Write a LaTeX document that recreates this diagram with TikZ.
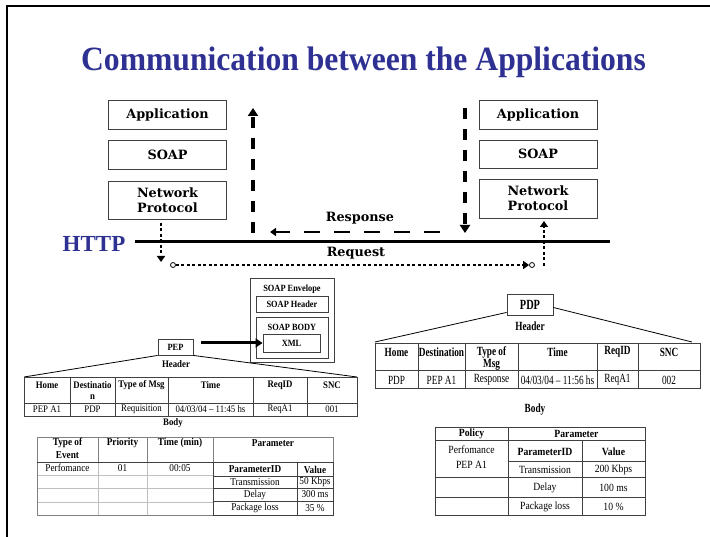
\documentclass[tikz,border=0pt]{standalone}
\usepackage{fontspec}
\setmainfont{Liberation Serif}
\newfontfamily\titlefont[FakeStretch=0.93]{Liberation Serif}
\newfontfamily\boxfont{DejaVu Serif}
\newfontfamily\tblfont[FakeStretch=0.88]{Liberation Serif}
\newfontfamily\tblnfont[FakeStretch=0.74]{Liberation Serif}
\usetikzlibrary{arrows.meta}
\definecolor{titleblue}{RGB}{46,49,146}
\tikzset{
  stk/.style={draw=black!75, line width=0.9, font=\boxfont\bfseries\fontsize{12.8}{15}\selectfont, align=center, inner sep=0pt, minimum width=118},
  arrlbl/.style={font=\boxfont\bfseries\fontsize{12.8}{13}\selectfont, inner sep=0pt},
  bigdash/.style={line width=3.5, dash pattern=on 11pt off 10pt},
  respdash/.style={line width=2.5, dash pattern=on 16pt off 14pt},
  dotl/.style={line width=2.4, dash pattern=on 3pt off 2.5pt},
  btip/.style={-{Triangle[width=10pt,length=8pt]}},
  stip/.style={-{Triangle[width=8pt,length=6pt]}},
  tl/.style={draw=black!75, line width=0.8},
  lg/.style={draw=black!25, line width=0.8},
  mg/.style={draw=black!50, line width=0.9},
  sbox/.style={draw=black!75, line width=0.9, inner sep=0pt},
  pb/.style={font=\tblfont\bfseries\fontsize{10}{11}\selectfont, inner sep=0pt, align=center},
  pr/.style={font=\tblfont\fontsize{10}{11}\selectfont, inner sep=0pt},
  nb/.style={font=\tblnfont\bfseries\fontsize{12.5}{13}\selectfont, inner sep=0pt},
  nr/.style={font=\tblnfont\fontsize{12.5}{13}\selectfont, inner sep=0pt},
  bb/.style={font=\tblfont\bfseries\fontsize{10.5}{11}\selectfont, inner sep=0pt},
  br/.style={font=\tblfont\fontsize{10.5}{11}\selectfont, inner sep=0pt},
  rb/.style={font=\tblfont\bfseries\fontsize{11}{12}\selectfont, inner sep=0pt},
  rr/.style={font=\tblfont\fontsize{11}{12}\selectfont, inner sep=0pt},
}
\begin{document}
\begin{tikzpicture}[x=1pt,y=-1pt]
\useasboundingbox (0,0) rectangle (710,537);
% frame
\draw[line width=1.3] (7,537) -- (7,6) -- (710,6);
% title
\node[font=\titlefont\bfseries\fontsize{34}{36}\selectfont, text=titleblue, anchor=base, inner sep=0] (title) at (363.5,71) {Communication between the Applications};

% left stack
\node[stk, minimum height=29] (lapp) at (167.5,114.5) {Application};
\node[stk, minimum height=29] (lsoap) at (167.5,155) {SOAP};
\node[stk, minimum height=38] (lnet) at (167.5,200) {Network\\Protocol};
% right stack
\node[stk, minimum height=29] (rapp) at (538,114.5) {Application};
\node[stk, minimum height=28] (rsoap) at (538,154) {SOAP};
\node[stk, minimum height=39] (rnet) at (538,198.5) {Network\\Protocol};

% dashed vertical arrows
\coordinate (lupB) at (253,233);
\coordinate (lupT) at (253,108);
\draw[bigdash, btip] (lupB) -- (lupT);
\coordinate (rdnT) at (465,108);
\coordinate (rdnB) at (465,233);
\draw[bigdash, btip] (rdnT) -- (rdnB);
% response
\coordinate (resS) at (440,232);
\coordinate (resE) at (270,232);
\draw[respdash, stip] (resS) -- (resE);
\node[arrlbl] (resp) at (360,218) {Response};

% HTTP
\node[font=\bfseries\fontsize{23}{24}\selectfont, text=titleblue, inner sep=0] (http) at (94,244) {HTTP};
\coordinate (hS) at (135,242);
\coordinate (hE) at (610,242);
\draw[line width=3] (hS) -- (hE);

% request
\coordinate (ldT) at (161,223);
\coordinate (ldB) at (161,262);
\draw[dotl, stip] (ldT) -- (ldB);
\node[circle, draw, line width=0.8, inner sep=0pt, minimum size=5] (rqs) at (173,265) {};
\node[circle, draw, line width=0.8, inner sep=0pt, minimum size=5] (rqe) at (532,265) {};
\draw[dotl, stip] (rqs) -- (rqe);
\node[arrlbl] (req) at (356,253) {Request};
\coordinate (ruB) at (544,266);
\coordinate (ruT) at (544,221);
\draw[dotl, stip] (ruB) -- (ruT);

% SOAP envelope
\draw[sbox] (250,278) rectangle (334,362);
\node[pb, font=\tblfont\bfseries\fontsize{9.5}{10}\selectfont] (senv) at (292,289) {SOAP Envelope};
\node[sbox, minimum width=72, minimum height=16, font=\tblfont\bfseries\fontsize{9.5}{10}\selectfont] (shead) at (292,304) {SOAP Header};
\draw[sbox] (256,317) rectangle (328,358);
\node[pb, font=\tblfont\bfseries\fontsize{9.5}{10}\selectfont] (sbody) at (292,327) {SOAP BODY};
\node[sbox, minimum width=57, minimum height=18, font=\tblfont\bfseries\fontsize{9.5}{10}\selectfont] (xml) at (291.5,343) {XML};

% PEP
\node[sbox, minimum width=35, minimum height=16, font=\tblfont\bfseries\fontsize{9.5}{10}\selectfont] (pep) at (175.5,347) {PEP};
\draw[line width=3, -{Triangle[width=9pt,length=7pt]}] (pep.east) ++(8,-4) coordinate (pa) -- (xml.west |- pa);
\node[pb] (pephdr) at (176,364) {Header};
\coordinate (ptl) at (24,377);
\coordinate (ptr) at (357,377);
\draw[line width=0.8] (pep.south west) -- (ptl);
\draw[line width=0.8] (pep.south east) -- (ptr);

% PEP header table
\draw[tl] (24,377) rectangle (357,416);
\draw[tl] (24,403) -- (357,403);
\foreach \x in {70,115,168,253,307} \draw[tl] (\x,377) -- (\x,416);
\node[pb] (p1) at (47,385) {Home};
\node[pb] (p2) at (92.5,385) {Destinatio};
\node[pb] (p2b) at (92.5,397) {n};
\node[pb] (p3) at (141.5,385) {Type of Msg};
\node[pb] (p4) at (210.5,385) {Time};
\node[pb] (p5) at (280,385) {ReqID};
\node[pb] (p6) at (332,385) {SNC};
\node[pr] (p7) at (47,409.5) {PEP A1};
\node[pr] (p8) at (92.5,409.5) {PDP};
\node[pr] (p9) at (141.5,409.5) {Requisition};
\node[pr] (p10) at (210.5,409.5) {04/03/04 – 11:45 hs};
\node[pr] (p11) at (280,409.5) {ReqA1};
\node[pr] (p12) at (332,409.5) {001};
\node[pb] (pepbody) at (173,423) {Body};

% left body table
\draw[lg] (37,475) -- (213,475);
\draw[lg] (37,488) -- (213,488);
\draw[lg] (37,502) -- (213,502);
\draw[lg] (98,462) -- (98,515);
\draw[lg] (147,462) -- (147,515);
\draw[mg] (98,437) -- (98,462);
\draw[mg] (147,437) -- (147,462);
\draw[mg] (213,437) -- (213,462);
\draw[mg] (37,437) rectangle (333,515);
\draw[tl] (37,462) -- (333,462);
\draw[tl] (213,462) rectangle (333,515);
\draw[tl] (297,462) -- (297,515);
\draw[tl] (213,476) -- (333,476);
\draw[tl] (213,488) -- (333,488);
\draw[tl] (213,501) -- (333,501);
\node[bb] (b1) at (67.5,443) {Type of};
\node[bb] (b1b) at (67.5,455) {Event};
\node[bb] (b2) at (122.5,443) {Priority};
\node[bb] (b3) at (180,443) {Time (min)};
\node[bb] (b4) at (273,443) {Parameter};
\node[br] (b5) at (67.5,468) {Perfomance};
\node[br] (b6) at (122.5,468) {01};
\node[br] (b7) at (180,468) {00:05};
\node[bb] (b8) at (255,469.5) {ParameterID};
\node[bb] (b9) at (315,469.5) {Value};
\node[br] (b10) at (255,482) {Transmission};
\node[br] (b11) at (315,482) {50 Kbps};
\node[br] (b12) at (255,494.5) {Delay};
\node[br] (b13) at (315,494.5) {300 ms};
\node[br] (b14) at (255,508) {Package loss};
\node[br] (b15) at (315,508) {35 \%};

% PDP
\node[sbox, minimum width=46, minimum height=21, font=\tblnfont\bfseries\fontsize{14}{15}\selectfont] (pdp) at (530,304.5) {PDP};
\node[nb] (pdphdr) at (530,326) {Header};
\coordinate (qtl) at (375,342);
\coordinate (qtr) at (692,342);
\draw[line width=0.8] (pdp.south west) ++(0,-3) -- (qtl);
\draw[line width=0.8] (pdp.east) ++(0,3) -- (qtr);

% PDP header table
\draw[tl] (375,343) rectangle (700,388);
\draw[tl] (375,370) -- (700,370);
\foreach \x in {418,465,518,597,638} \draw[tl] (\x,343) -- (\x,388);
\node[nb] (q1) at (396.5,352) {Home};
\node[nb] (q2) at (441.5,352) {Destination};
\node[nb] (q3) at (491.5,352) {Type of};
\node[nb] (q3b) at (491.5,365) {Msg};
\node[nb] (q4) at (557.5,352) {Time};
\node[nb] (q5) at (617.5,352) {ReqID};
\node[nb] (q6) at (669,352) {SNC};
\node[nr] (q7) at (396.5,380) {PDP};
\node[nr] (q8) at (441.5,380) {PEP A1};
\node[nr] (q9) at (491.5,380) {Response};
\node[nr] (q10) at (557.5,380) {04/03/04 – 11:56 hs};
\node[nr] (q11) at (617.5,380) {ReqA1};
\node[nr] (q12) at (669,380) {002};
\node[nb] (pdpbody) at (535,410) {Body};

% right body table
\draw[tl] (435,427) rectangle (645,515);
\draw[tl] (435,440) -- (645,440);
\draw[tl] (508,461) -- (645,461);
\draw[tl] (435,477) -- (645,477);
\draw[tl] (435,497) -- (645,497);
\draw[tl] (508,427) -- (508,515);
\draw[tl] (582,440) -- (582,515);
\node[rb] (r1) at (471.5,433.5) {Policy};
\node[rb] (r2) at (576.5,433.5) {Parameter};
\node[rr] (r3) at (471.5,450) {Perfomance};
\node[rr] (r4) at (471.5,465) {PEP A1};
\node[rb] (r5) at (545,451.5) {ParameterID};
\node[rb] (r6) at (613.5,451.5) {Value};
\node[rr] (r7) at (545,469.5) {Transmission};
\node[rr] (r8) at (613.5,469.5) {200 Kbps};
\node[rr] (r9) at (545,487.5) {Delay};
\node[rr] (r10) at (613.5,487.5) {100 ms};
\node[rr] (r11) at (545,506.5) {Package loss};
\node[rr] (r12) at (613.5,506.5) {10 \%};
\end{tikzpicture}
\end{document}
